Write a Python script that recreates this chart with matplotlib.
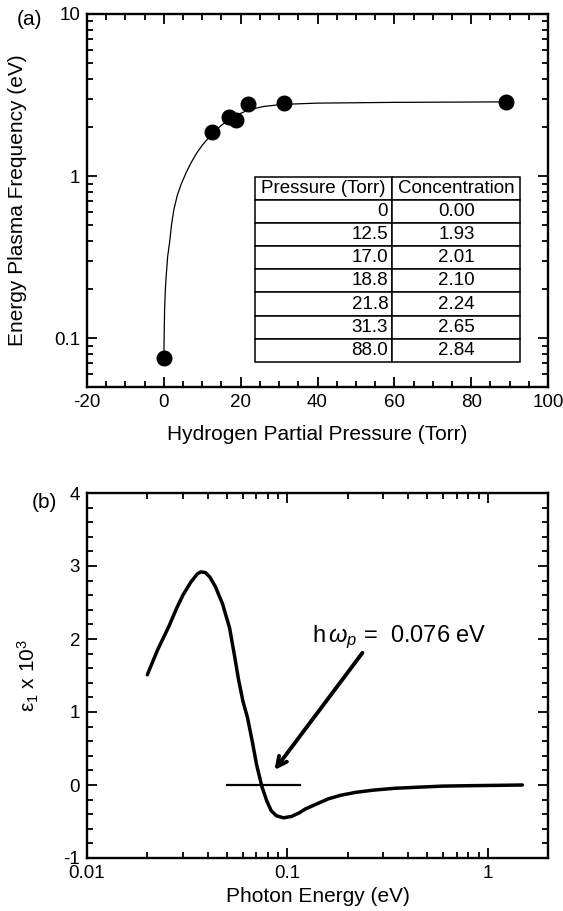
import matplotlib
matplotlib.use("Agg")
import matplotlib.pyplot as plt
from matplotlib.ticker import MultipleLocator, LogLocator, FixedLocator, NullFormatter, FuncFormatter

plt.rcParams['font.family'] = ['Liberation Sans', 'DejaVu Sans']
plt.rcParams['mathtext.fontset'] = 'custom'
plt.rcParams['mathtext.rm'] = 'Liberation Sans'
plt.rcParams['mathtext.it'] = 'Liberation Sans:italic'
plt.rcParams['axes.unicode_minus'] = False

# ---- Panel (a) data ----
pressure_pts = [0.0, 12.5, 17.0, 18.8, 21.8, 31.3, 89.0]
plasma_pts = [0.076, 1.87, 2.30, 2.21, 2.78, 2.82, 2.87]
fit_x = [0, 0.1, 0.2, 0.4, 0.6, 1.0, 1.5, 2.0, 2.6, 3.5, 4.5, 5.8, 7.1, 8.5, 10, 12.5, 15, 18,
         22, 26, 31, 40, 60, 89]
fit_y = [0.076, 0.11, 0.15, 0.20, 0.24, 0.32, 0.39, 0.50, 0.62, 0.76, 0.89, 1.05, 1.21, 1.38,
         1.55, 1.82, 2.06, 2.32, 2.56, 2.69, 2.77, 2.82, 2.85, 2.87]
table_pressure = ["0", "12.5", "17.0", "18.8", "21.8", "31.3", "88.0"]
table_conc = ["0.00", "1.93", "2.01", "2.10", "2.24", "2.65", "2.84"]
table_headers = ["Pressure (Torr)", "Concentration"]

# ---- Panel (b) data ----
photon_e = [0.0200, 0.0225, 0.0256, 0.0280, 0.0301, 0.0330, 0.0355, 0.0370, 0.0390, 0.0410,
            0.0437, 0.0475, 0.0515, 0.0545, 0.0571, 0.0600, 0.0633, 0.0670, 0.0702, 0.0746,
            0.0790, 0.0830, 0.0880, 0.0957, 0.1050, 0.1150, 0.1226, 0.140, 0.160, 0.185,
            0.220, 0.270, 0.344, 0.450, 0.600, 0.785, 1.10, 1.49]
eps1 = [1.51, 1.85, 2.17, 2.42, 2.60, 2.78, 2.89, 2.92, 2.91, 2.85,
        2.72, 2.48, 2.15, 1.77, 1.44, 1.15, 0.92, 0.58, 0.28, -0.02,
        -0.22, -0.35, -0.42, -0.45, -0.43, -0.38, -0.33, -0.26, -0.19, -0.14,
        -0.10, -0.07, -0.045, -0.03, -0.015, -0.01, -0.005, 0.0]
zero_line_x = [0.05, 0.115]
zero_line_y = [0.0, 0.0]
arrow_tail = (0.237, 1.81)
arrow_tip = (0.0863, 0.205)

fig = plt.figure(figsize=(5.63, 9.11), dpi=100)
W, H = 563, 911
def box(l, t, r, b):
    return [l / W, 1 - b / H, (r - l) / W, (b - t) / H]

axA = fig.add_axes(box(87, 14, 548, 387))
axB = fig.add_axes(box(87, 493, 548, 858))

fs = 13.5
lfs = 15
for ax in (axA, axB):
    for s in ax.spines.values():
        s.set_linewidth(1.7)
    ax.tick_params(which='both', direction='in', top=True, right=True, labelsize=fs, width=1.3)
    ax.tick_params(which='major', length=7, pad=5)
    ax.tick_params(which='minor', length=4)

# Panel (a)
axA.plot(fit_x, fit_y, color='black', lw=0.9)
axA.plot(pressure_pts, plasma_pts, 'o', color='black', ms=10.5)
axA.set_yscale('log')
axA.set_xlim(-20, 100)
axA.set_ylim(0.05, 10)
axA.xaxis.set_major_locator(MultipleLocator(20))
axA.xaxis.set_minor_locator(MultipleLocator(5))
axA.yaxis.set_major_locator(FixedLocator([0.1, 1, 10]))
axA.yaxis.set_major_formatter(FuncFormatter(lambda v, p: {0.1: '0.1', 1: '1', 10: '10'}.get(round(v, 3), '')))
axA.yaxis.set_minor_locator(LogLocator(base=10, subs=range(2, 10)))
axA.yaxis.set_minor_formatter(NullFormatter())
axA.set_xlabel('Hydrogen Partial Pressure (Torr)', fontsize=lfs)
axA.set_ylabel('Energy Plasma Frequency (eV)', fontsize=lfs)
axA.yaxis.set_label_coords(-0.13, 0.5)
axA.xaxis.set_label_coords(0.5, -0.102)
axA.text(-0.124, 0.984, '(a)', transform=axA.transAxes, fontsize=lfs, ha='center', va='center')

cell_text = [[p, c] for p, c in zip(table_pressure, table_conc)]
tbl = axA.table(cellText=cell_text, colLabels=table_headers,
                bbox=[0.364, 0.067, 0.576, 0.497], colWidths=[138, 128.5])
tbl.auto_set_font_size(False)
tbl.set_fontsize(13.5)
for (r, c), cell in tbl.get_celld().items():
    cell.set_linewidth(1.1)
    cell.PAD = 0.03
    if r == 0:
        cell._loc = 'center'
        cell.set_text_props(ha='center')
    elif c == 0:
        cell._loc = 'right'
        cell.set_text_props(ha='right')
    else:
        cell._loc = 'center'
        cell.set_text_props(ha='center')

# Panel (b)
axB.plot(photon_e, eps1, color='black', lw=2.5, solid_capstyle='round', solid_joinstyle='round')
axB.plot(zero_line_x, zero_line_y, color='black', lw=1.6)
axB.set_xscale('log')
axB.set_xlim(0.01, 2)
axB.set_ylim(-1, 4)
axB.yaxis.set_major_locator(MultipleLocator(1))
axB.yaxis.set_minor_locator(MultipleLocator(0.2))
axB.xaxis.set_major_locator(FixedLocator([0.01, 0.1, 1]))
axB.xaxis.set_major_formatter(FuncFormatter(lambda v, p: {0.01: '0.01', 0.1: '0.1', 1.0: '1'}.get(round(v, 3), '')))
axB.xaxis.set_minor_locator(LogLocator(base=10, subs=range(2, 10)))
axB.xaxis.set_minor_formatter(NullFormatter())
axB.yaxis.set_major_formatter(FuncFormatter(lambda v, p: '%d' % v))
axB.set_xlabel('Photon Energy (eV)', fontsize=lfs)
axB.set_ylabel('ε$_1$ x 10$^3$', fontsize=lfs)
axB.yaxis.set_label_coords(-0.10, 0.5)
axB.xaxis.set_label_coords(0.5, -0.08)
axB.text(-0.093, 0.975, '(b)', transform=axB.transAxes, fontsize=lfs, ha='center', va='center')
axB.annotate('', xy=arrow_tip, xytext=arrow_tail,
             arrowprops=dict(arrowstyle='->,head_length=0.7,head_width=0.35', lw=2.8, color='black',
                             shrinkA=0, shrinkB=0))
axB.text(0.133, 2.03, r'h$\,\omega_p$ =  0.076 eV', fontsize=17, ha='left', va='center')

fig.savefig('out.png', dpi=100)
